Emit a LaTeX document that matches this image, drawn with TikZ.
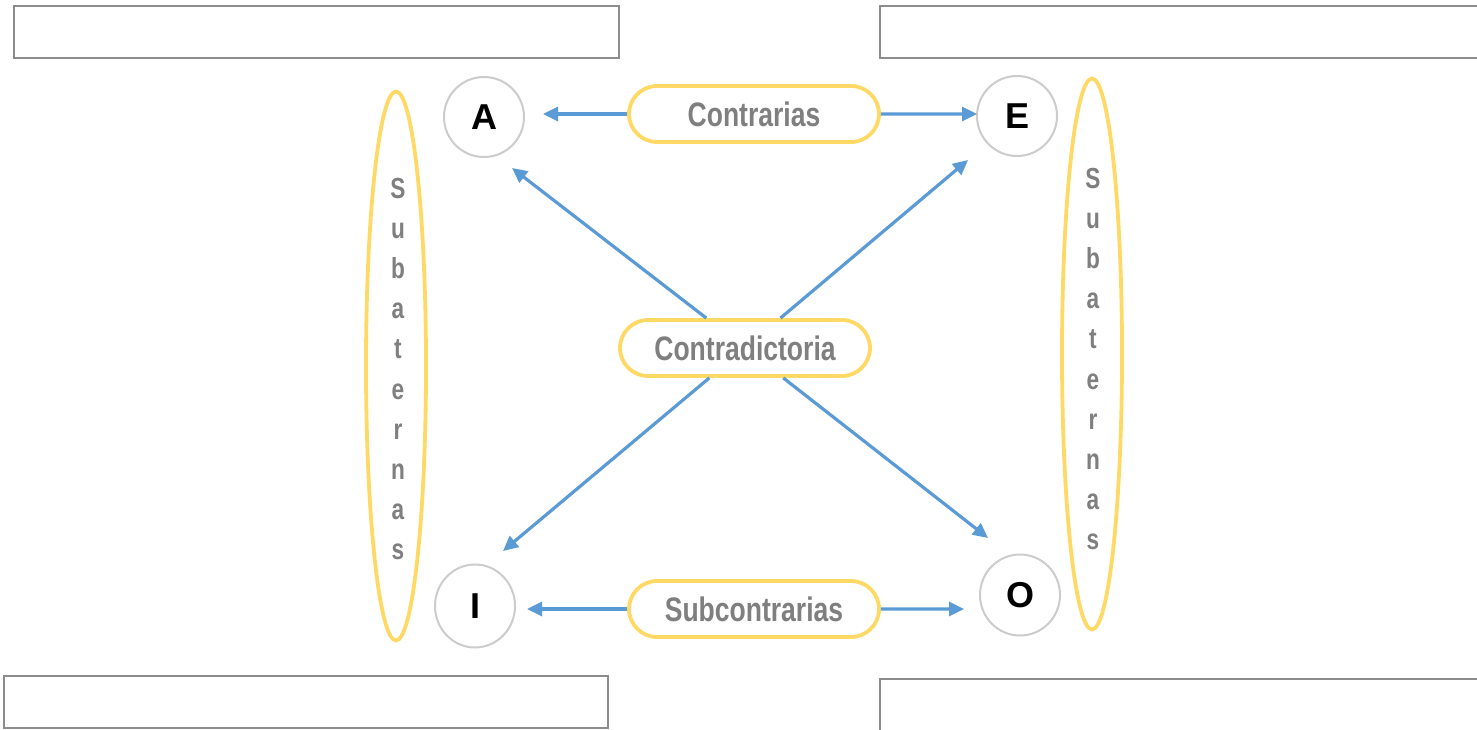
\documentclass[tikz,border=0pt]{standalone}
\usepackage{fontspec}
\setmainfont{Liberation Sans}
\newfontfamily\narrowfont[FakeStretch=0.78]{Liberation Sans}
\usetikzlibrary{shapes.geometric,shapes.misc,arrows.meta}
\definecolor{pillyellow}{HTML}{FFD966}
\definecolor{arrowblue}{HTML}{5B9BD5}
\definecolor{labelgray}{HTML}{7F7F7F}
\definecolor{ringgray}{HTML}{CCCCCC}
\definecolor{boxgray}{HTML}{8C8C8C}
\begin{document}
\begin{tikzpicture}[x=1pt,y=-1pt,
  letter/.style={draw=ringgray,line width=2pt,ellipse,minimum width=80pt,minimum height=80pt,inner sep=0pt,font=\fontsize{36}{36}\selectfont\bfseries},
  pill/.style={draw=pillyellow,line width=3.8pt,rounded rectangle,minimum width=250pt,minimum height=56pt,inner sep=0pt,text=labelgray,font=\narrowfont\bfseries\fontsize{34}{34}\selectfont},
  sideoval/.style={draw=pillyellow,line width=3.8pt,ellipse,minimum width=60pt,minimum height=549pt,inner sep=0pt},
  sidetext/.style={align=center,inner sep=0pt,text=labelgray,font=\narrowfont\bfseries\fontsize{29}{40.2}\selectfont},
  blankbox/.style={draw=boxgray,line width=1.2pt,rectangle,inner sep=0pt,fill=white},
  link/.style={draw=arrowblue,line width=3.2pt,-{Triangle[length=15pt,width=14pt]}}
]
\useasboundingbox (0,0) rectangle (1477,730);
\fill[white] (0,0) rectangle (1477,730);
\clip (0,0) rectangle (1477,730);

% blank boxes
\node[blankbox,minimum width=605pt,minimum height=52pt] (b1) at (316.5,32) {};
\node[blankbox,minimum width=600pt,minimum height=52pt] (b2) at (1180,32) {};
\node[blankbox,minimum width=604pt,minimum height=52pt] (b3) at (306,702) {};
\node[blankbox,minimum width=602pt,minimum height=54pt] (b4) at (1181,706) {};

% side ovals
\node[sideoval] (sl) at (396,366) {};
\node[sidetext] (slt) at (398,369) {S\\u\\b\\a\\t\\e\\r\\n\\a\\s};
\node[sideoval,minimum height=551pt] (sr) at (1092,354) {};
\node[sidetext] (srt) at (1093,359) {S\\u\\b\\a\\t\\e\\r\\n\\a\\s};

% letters
\node[letter] (A) at (484,117) {A};
\node[letter] (E) at (1017,116) {E};
\node[letter,minimum height=83pt] (I) at (475,606) {I};
\node[letter,minimum height=81pt] (O) at (1020,595) {O};

% pills
\node[pill] (Ct) at (754,114) {Contrarias};
\node[pill] (Cd) at (745,348) {Contradictoria};
\node[pill] (Sc) at (754,609) {Subcontrarias};

% arrow tips
\coordinate (tA) at (543,114);
\coordinate (tE) at (977,114);
\coordinate (tI) at (527,609);
\coordinate (tO) at (964,609);
\coordinate (dA) at (512,168);
\coordinate (dE) at (968,160);
\coordinate (dI) at (503,551);
\coordinate (dO) at (988,538);

\draw[link] (Ct) -- (tA);
\draw[link] (Ct) -- (tE);
\draw[link] (Sc) -- (tI);
\draw[link] (Sc) -- (tO);
\draw[link] (Cd) -- (dA);
\draw[link] (Cd) -- (dE);
\draw[link] (Cd) -- (dI);
\draw[link] (Cd) -- (dO);
\end{tikzpicture}
\end{document}
